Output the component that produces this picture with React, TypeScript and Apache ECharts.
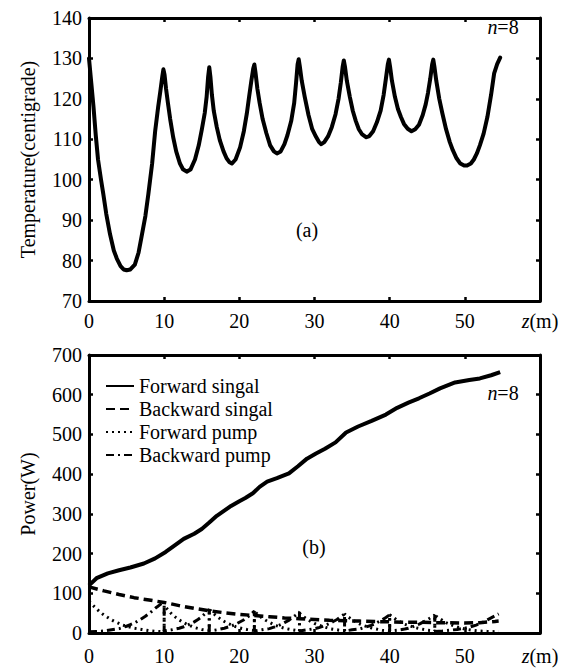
import React, { useEffect, useRef } from "react";
import * as echarts from "echarts";

const FONT = '"Liberation Serif", "Times New Roman", serif';

const xTicks = [0, 10, 20, 30, 40, 50, 60];
const tempTicks = [70, 80, 90, 100, 110, 120, 130, 140];
const powerTicks = [0, 100, 200, 300, 400, 500, 600, 700];

const legendNames = ["Forward singal", "Backward singal", "Forward pump", "Backward pump"];

// Temperature (centigrade) vs z (m)
const temperature: [number, number][] = [
  [0, 130], [0.3, 124], [0.6, 118], [0.9, 111], [1.2, 105], [1.6, 100], [1.9, 96.5], [2.3, 91.5], [2.8, 86.5],
  [3.3, 82.5], [3.7, 80.5], [4.2, 78.6], [4.6, 77.8], [5.0, 77.6], [5.5, 77.8], [6.1, 79], [6.6, 82], [7.0, 86],
  [7.5, 91], [7.9, 96.5], [8.4, 104], [8.8, 112], [9.2, 118], [9.5, 122], [9.75, 125.5], [9.9, 127.3], [10.05, 126],
  [10.25, 122.5], [10.5, 119], [10.8, 115], [11.2, 110.5], [11.6, 107], [12.1, 104], [12.5, 102.6], [13.0, 102],
  [13.5, 102.5], [14.1, 105], [14.6, 108.5], [15.0, 112.3], [15.4, 116.5], [15.65, 120.5], [15.85, 125.5], [16.0, 127.8],
  [16.15, 125.5], [16.35, 121], [16.6, 117], [17.0, 113], [17.4, 109.8], [17.9, 107], [18.3, 105.3], [18.7, 104.3], [19.0, 104],
  [19.5, 105], [20.1, 108], [20.6, 112], [21.0, 116.4], [21.3, 120.5], [21.6, 124.5], [21.85, 127.5], [22.0, 128.5],
  [22.15, 126.5], [22.4, 122.5], [22.7, 119], [23.1, 115], [23.6, 111.5], [24.1, 108.5], [24.6, 107], [25.0, 106.5], [25.5, 107],
  [26.0, 108.8], [26.4, 111], [26.9, 114.5], [27.3, 119], [27.55, 124], [27.75, 128.5], [27.9, 129.8],
  [28.05, 128], [28.3, 124.5], [28.7, 120.5], [29.2, 116], [29.7, 112.5], [30.2, 110.6], [30.6, 109.3], [30.9, 108.8],
  [31.3, 109.3], [31.8, 110.7], [32.3, 113], [32.8, 116.2], [33.2, 120], [33.5, 124], [33.75, 128], [33.9, 129.5],
  [34.05, 128], [34.3, 124.5], [34.7, 120.5], [35.1, 117], [35.5, 114.5], [35.9, 112.5], [36.3, 111.3], [36.9, 110.5],
  [37.3, 110.8], [37.8, 112], [38.3, 114.2], [38.8, 117.1], [39.2, 121], [39.5, 125], [39.75, 128.5], [39.9, 129.7],
  [40.05, 128], [40.3, 124.5], [40.7, 120.5], [41.1, 117.5], [41.5, 115.5], [41.9, 113.8], [42.4, 112.6], [42.9, 112],
  [43.4, 112.5], [43.9, 113.6], [44.4, 116], [44.8, 118.7], [45.1, 121.5], [45.4, 125], [45.65, 128.5], [45.8, 129.7],
  [45.95, 128], [46.2, 124.5], [46.6, 120], [47.0, 116.5], [47.5, 112.5], [48.0, 109.3], [48.4, 107.3], [48.9, 105.3], [49.4, 104],
  [49.9, 103.5], [50.3, 103.5], [50.8, 104], [51.2, 105], [51.6, 106.5], [52.0, 108.5], [52.5, 111.4], [53.0, 115.5],
  [53.5, 121.1], [53.9, 126.3], [54.3, 128.6], [54.7, 130.2],
];

// Power (W) vs z (m)
const forwardSignal: [number, number][] = [
  [0, 120], [1, 138], [2.5, 150], [4, 158], [5.5, 165], [7.3, 175], [8.8, 188], [10.2, 204], [11.5, 222],
  [12.6, 237], [14, 250], [15, 262], [16, 278], [17, 295], [18, 308], [18.9, 320], [20, 332], [20.8, 340],
  [21.8, 352], [22.7, 368], [23.7, 381], [25, 390], [26.6, 402], [27.8, 420], [29, 439], [30.2, 452], [31.4, 464],
  [32.8, 480], [34.2, 505], [35.8, 520], [37.6, 534], [39.5, 550], [41, 567], [42.5, 580], [43.9, 591],
  [45.3, 603], [46.7, 616], [48.7, 631], [50.6, 637], [52, 641], [53.5, 649], [54.7, 657],
];

const backwardSignal: [number, number][] = [
  [0, 116], [2, 106], [4, 97], [6, 89], [8, 83], [10, 77], [12, 69], [14, 62], [16, 56], [18, 51], [20, 47],
  [22, 44], [24, 41], [26, 38], [28, 36], [30, 34], [32, 32], [34, 31], [36, 30], [38, 29], [40, 28], [42, 27],
  [44, 27], [46, 26], [48, 26], [50, 25], [52, 26], [54, 29], [54.5, 30],
];

const forwardPump: [number, number][] = [
  [0, 80], [0.5, 70], [1, 61], [1.5, 52], [2, 45], [2.5, 39], [3, 33], [3.5, 28], [4, 24], [4.5, 20], [5, 17],
  [6, 12], [7, 9], [8, 6], [9, 4], [10, 3],
  [10, 70], [10.5, 58], [11, 48], [11.5, 40], [12, 33], [12.5, 27], [13, 22], [13.5, 18], [14, 14], [15, 9], [16, 6],
  [16, 60], [16.5, 50], [17, 42], [17.5, 35], [18, 29], [18.5, 24], [19, 20], [19.5, 16], [20, 13], [21, 9], [22, 6],
  [22, 55], [22.5, 46], [23, 38], [23.5, 32], [24, 27], [24.5, 22], [25, 18], [25.5, 15], [26, 12], [27, 8], [28, 5],
  [28, 50], [28.5, 42], [29, 35], [29.5, 29], [30, 24], [30.5, 20], [31, 17], [31.5, 14], [32, 11], [33, 8], [34, 5],
  [34, 48], [34.5, 40], [35, 34], [35.5, 28], [36, 23], [36.5, 19], [37, 16], [37.5, 13], [38, 11], [39, 7], [40, 5],
  [40, 46], [40.5, 39], [41, 32], [41.5, 27], [42, 22], [42.5, 19], [43, 16], [43.5, 13], [44, 11], [45, 7], [46, 5],
  [46, 45], [46.5, 38], [47, 32], [47.5, 26], [48, 22], [48.5, 18], [49, 15], [50, 10], [51, 7], [52, 5], [53, 4],
  [54.5, 3],
];

const backwardPump: [number, number][] = [
  [0, 3], [1, 4], [2, 5], [3, 8], [4, 11], [4.5, 14], [5, 17], [5.5, 21], [6, 25], [6.5, 30], [7, 36], [7.5, 42],
  [8, 49], [8.5, 57], [9, 65], [9.5, 72], [10, 80],
  [10, 5], [11, 8], [12, 12], [12.5, 15], [13, 19], [13.5, 23], [14, 28], [14.5, 34], [15, 41], [15.5, 50], [16, 60],
  [16, 5], [17, 8], [18, 12], [18.5, 15], [19, 18], [19.5, 22], [20, 27], [20.5, 32], [21, 39], [21.5, 46], [22, 55],
  [22, 5], [23, 8], [24, 11], [24.5, 14], [25, 17], [25.5, 21], [26, 26], [26.5, 31], [27, 38], [27.5, 45], [28, 53],
  [28, 5], [29, 8], [30, 11], [30.5, 13], [31, 16], [31.5, 20], [32, 24], [32.5, 29], [33, 34], [33.5, 41], [34, 48],
  [34, 5], [35, 8], [36, 10], [36.5, 13], [37, 16], [37.5, 19], [38, 23], [38.5, 28], [39, 33], [39.5, 39], [40, 46],
  [40, 5], [41, 7], [42, 10], [42.5, 12], [43, 15], [43.5, 19], [44, 23], [44.5, 28], [45, 33], [45.5, 39], [46, 45],
  [46, 4], [47, 5], [48, 7], [49, 9], [50, 12], [50.5, 14], [51, 17], [51.5, 20], [52, 24], [52.5, 28], [53, 33],
  [53.5, 38], [54, 43], [54.5, 48],
];

export default function App() {
  const ref = useRef<HTMLDivElement>(null);

  useEffect(() => {
    if (!ref.current) return;
    const chart = echarts.init(ref.current, undefined, { renderer: "svg" });

    const axisLine = { show: true, onZero: false, lineStyle: { color: "#000", width: 3 } };
    const tick = { show: true, inside: true, length: 4, lineStyle: { color: "#000", width: 2.5 } };
    const label = { fontFamily: FONT, fontSize: 20, color: "#000" };

    const xMain = (gridIndex: number, margin: number) => ({
      type: "value",
      gridIndex,
      min: xTicks[0],
      max: xTicks[xTicks.length - 1],
      interval: 10,
      position: "bottom",
      axisLine,
      axisTick: tick,
      splitLine: { show: false },
      axisLabel: {
        ...label,
        margin,
        showMinLabel: true,
        showMaxLabel: true,
        formatter: (v: number) => (v === 60 ? "{i|z}(m)" : String(v)),
        rich: { i: { fontFamily: FONT, fontSize: 20, fontStyle: "italic", color: "#000" } },
      },
    });
    const xTop = (gridIndex: number) => ({
      type: "value",
      gridIndex,
      min: xTicks[0],
      max: xTicks[xTicks.length - 1],
      interval: 10,
      position: "top",
      axisLine,
      axisTick: tick,
      splitLine: { show: false },
      axisLabel: { show: false },
    });
    const yMain = (gridIndex: number, ticks: number[], name: string) => ({
      type: "value",
      gridIndex,
      min: ticks[0],
      max: ticks[ticks.length - 1],
      interval: ticks[1] - ticks[0],
      position: "left",
      axisLine,
      axisTick: tick,
      splitLine: { show: false },
      axisLabel: { ...label, margin: 7, showMinLabel: true, showMaxLabel: true },
      name,
      nameLocation: "middle",
      nameGap: 51,
      nameTextStyle: { fontFamily: FONT, fontSize: 20, color: "#000" },
    });
    const yRight = (gridIndex: number, ticks: number[]) => ({
      type: "value",
      gridIndex,
      min: ticks[0],
      max: ticks[ticks.length - 1],
      interval: ticks[1] - ticks[0],
      position: "right",
      axisLine,
      axisTick: tick,
      splitLine: { show: false },
      axisLabel: { show: false },
    });

    const lineBase = {
      type: "line",
      xAxisIndex: 2,
      yAxisIndex: 2,
      showSymbol: false,
      symbol: "none",
      color: "#000",
      animation: false,
    };

    const nText = (x: number, y: number) => ({
      type: "text",
      x,
      y,
      style: {
        text: "{i|n}=8",
        rich: { i: { fontStyle: "italic", fontFamily: FONT, fontSize: 20, fill: "#000" } },
        fontFamily: FONT,
        fontSize: 20,
        fill: "#000",
        align: "center",
        verticalAlign: "middle",
      },
    });

    const option: any = {
      animation: false,
      backgroundColor: "#fff",
      grid: [
        { left: 89, top: 18, width: 451, height: 283 },
        { left: 89, top: 355, width: 451, height: 278 },
      ],
      xAxis: [xMain(0, 10), xTop(0), xMain(1, 13), xTop(1)],
      yAxis: [
        yMain(0, tempTicks, "Temperature(centigrade)"),
        yRight(0, tempTicks),
        yMain(1, powerTicks, "Power(W)"),
        yRight(1, powerTicks),
      ],
      legend: {
        data: legendNames,
        orient: "vertical",
        left: 105,
        top: 376,
        padding: 0,
        itemWidth: 28,
        itemHeight: 14,
        itemGap: 3,
        selectedMode: false,
        itemStyle: { opacity: 0, borderWidth: 0 },
        textStyle: { fontFamily: FONT, fontSize: 20, color: "#000" },
      },
      series: [
        {
          type: "line",
          name: "Temperature",
          xAxisIndex: 0,
          yAxisIndex: 0,
          showSymbol: false,
          symbol: "none",
          color: "#000",
          lineStyle: { color: "#000", width: 4, join: "round", cap: "round" },
          data: temperature,
        },
        {
          ...lineBase,
          name: legendNames[0],
          lineStyle: { color: "#000", width: 4, join: "round" },
          data: forwardSignal,
        },
        {
          ...lineBase,
          name: legendNames[1],
          lineStyle: { color: "#000", width: 3.5, type: [9, 5] },
          data: backwardSignal,
        },
        {
          ...lineBase,
          name: legendNames[2],
          lineStyle: { color: "#000", width: 3, type: [2, 4] },
          data: forwardPump,
        },
        {
          ...lineBase,
          name: legendNames[3],
          lineStyle: { color: "#000", width: 3, type: [8, 4, 2, 4] },
          data: backwardPump,
        },
      ],
      graphic: [
        nText(503, 27),
        {
          type: "text",
          x: 307,
          y: 230,
          style: { text: "(a)", fontFamily: FONT, fontSize: 20, fill: "#000", align: "center", verticalAlign: "middle" },
        },
        nText(503, 393),
        {
          type: "text",
          x: 314,
          y: 547,
          style: { text: "(b)", fontFamily: FONT, fontSize: 20, fill: "#000", align: "center", verticalAlign: "middle" },
        },
      ],
    };

    chart.setOption(option);
    return () => chart.dispose();
  }, []);

  return (
    <div
      ref={ref}
      style={{ position: "fixed", left: 0, top: 0, width: 569, height: 670, background: "#fff" }}
    />
  );
}
